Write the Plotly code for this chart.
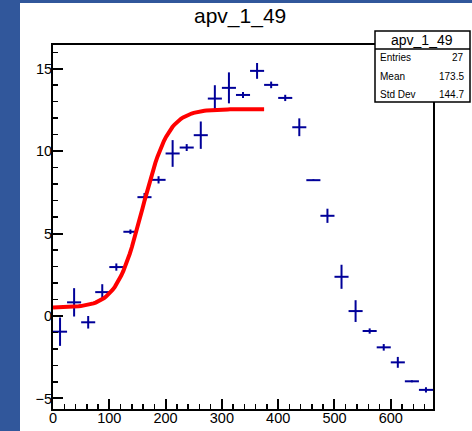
import numpy as np
import plotly.graph_objects as go

# ---- data ----
bin_centers = [12.5, 37.5, 62.5, 87.5, 112.5, 137.5, 162.5, 187.5, 212.5, 237.5,
               262.5, 287.5, 312.5, 337.5, 362.5, 387.5, 412.5, 437.5, 462.5, 487.5,
               512.5, 537.5, 562.5, 587.5, 612.5, 637.5, 662.5]
bin_half_width = [12.5] * 27
counts = [-0.95, 0.83, -0.38, 1.45, 2.97, 5.11, 7.21, 8.26, 9.86, 10.22,
          10.97, 13.19, 13.84, 13.41, 14.87, 14.02, 13.23, 11.45, 8.24, 6.08,
          2.38, 0.30, -0.91, -1.90, -2.81, -3.96, -4.48]
errors = [0.86, 0.86, 0.38, 0.48, 0.22, 0.14, 0.25, 0.22, 0.81, 0.21,
          0.83, 0.81, 0.94, 0.18, 0.48, 0.20, 0.19, 0.54, 0.05, 0.43,
          0.73, 0.66, 0.16, 0.20, 0.33, 0.06, 0.16]

# sigmoid fit parameters (baseline, amplitude, midpoint, width) and range
fit_base = 0.5
fit_amp = 12.05
fit_mid = 159.0
fit_width = 23.0
fit_range = [0.0, 375.0]

title_text = "apv_1_49"
stats_labels = ["Entries", "Mean", "Std Dev"]
stats_values = ["27", "173.5", "144.7"]

# ---- figure ----
fx = np.linspace(fit_range[0], fit_range[1], 100)
fy = fit_base + fit_amp / (1.0 + np.exp(-(fx - fit_mid) / fit_width))

navy = "#000099"
fig = go.Figure()
fig.add_trace(go.Scatter(
    x=bin_centers, y=counts, mode="markers",
    marker=dict(size=1, color=navy),
    error_x=dict(type="data", array=bin_half_width, width=0, thickness=2, color=navy),
    error_y=dict(type="data", array=errors, width=0, thickness=2, color=navy),
    showlegend=False, hoverinfo="skip"))
fig.add_trace(go.Scatter(x=fx, y=fy, mode="lines",
                         line=dict(color="#ff0000", width=4),
                         showlegend=False, hoverinfo="skip"))

L, R, T, B = 53, 433, 45, 409
W, H = 472, 431
pw, ph = R - L, B - T

def px(x):
    return (x - L) / pw

def py(y):
    return (B - y) / ph

font = "Liberation Sans, Arial, sans-serif"
axis_common = dict(showline=True, linecolor="black", linewidth=2, mirror=True,
                   ticks="inside", ticklen=10, tickwidth=2, tickcolor="black",
                   showgrid=False, zeroline=False, automargin=False,
                   tickfont=dict(family=font, size=14.5, color="black"))

fig.update_layout(
    width=W, height=H, autosize=False,
    margin=dict(l=L, r=W - R, t=T, b=H - B, pad=0, autoexpand=False),
    paper_bgcolor="#31579b", plot_bgcolor="white",
    xaxis=dict(range=[0, 675], dtick=100, tick0=0,
               minor=dict(dtick=20, ticklen=5, ticks="inside", tickwidth=1.5, tickcolor="black"),
               ticklabelstandoff=-5, **axis_common),
    yaxis=dict(range=[-5.64, 16.44], dtick=5, tick0=0,
               minor=dict(dtick=1, ticklen=5, ticks="inside", tickwidth=1.5, tickcolor="black"),
               ticklabelstandoff=-4, **axis_common),
)

shapes = [
    # white canvas
    dict(type="rect", xref="paper", yref="paper", layer="below",
         x0=px(20), x1=px(472), y0=py(431), y1=py(3),
         fillcolor="white", line=dict(width=0)),
    # stats box
    dict(type="rect", xref="paper", yref="paper", layer="above",
         x0=px(375), x1=px(470), y0=py(102), y1=py(31),
         fillcolor="white", line=dict(color="black", width=1.5)),
    dict(type="line", xref="paper", yref="paper", layer="above",
         x0=px(375), x1=px(470), y0=py(49), y1=py(49),
         line=dict(color="black", width=1.5)),
]
fig.update_layout(shapes=shapes)

ann = [
    dict(text=title_text, x=px(240), y=py(16), xref="paper", yref="paper",
         showarrow=False, xanchor="center", yanchor="middle",
         font=dict(family=font, size=21, color="black")),
    dict(text=title_text, x=px(422), y=py(40), xref="paper", yref="paper",
         showarrow=False, xanchor="center", yanchor="middle",
         font=dict(family=font, size=14, color="black")),
]
rows_y = [57, 76, 95]
for lab, val, yy in zip(stats_labels, stats_values, rows_y):
    ann.append(dict(text=lab, x=px(378), y=py(yy), xref="paper", yref="paper",
                    showarrow=False, xanchor="left", yanchor="middle",
                    font=dict(family=font, size=10, color="black")))
    ann.append(dict(text=val, x=px(466), y=py(yy), xref="paper", yref="paper",
                    showarrow=False, xanchor="right", yanchor="middle",
                    font=dict(family=font, size=10, color="black")))
fig.update_layout(annotations=ann)

fig.write_html("out.html",
               config={"responsive": False, "displayModeBar": False, "staticPlot": True},
               post_script="document.body.style.margin='0';document.body.style.overflow='hidden';")
